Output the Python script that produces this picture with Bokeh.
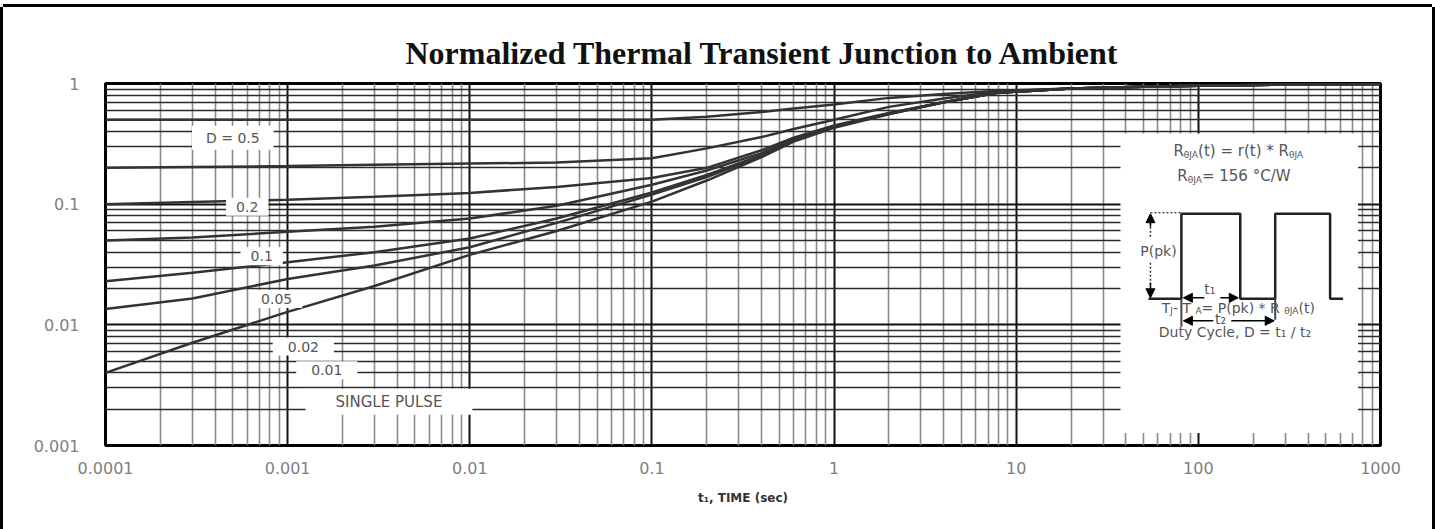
import numpy as np
from bokeh.plotting import figure
from bokeh.models import (FixedTicker, CustomJSTickFormatter, Label, Arrow,
                          NormalHead, Range1d)
from bokeh.embed import file_html
from bokeh.resources import INLINE

# ---------------- data ----------------
time_s = [1e-4, 3e-4, 1e-3, 3e-3, 0.01, 0.03, 0.1, 0.2, 0.4, 0.6,
          1, 2, 4, 8, 20, 50, 100, 300, 1000]
r_d050 = [0.50, 0.50, 0.50, 0.50, 0.50, 0.50, 0.50, 0.53, 0.58, 0.62,
          0.67, 0.76, 0.82, 0.87, 0.91, 0.94, 0.96, 0.98, 0.99]
r_d020 = [0.200, 0.203, 0.207, 0.212, 0.217, 0.221, 0.24, 0.29, 0.36, 0.42,
          0.50, 0.64, 0.75, 0.86, 0.91, 0.94, 0.96, 0.98, 0.99]
r_d010 = [0.100, 0.104, 0.109, 0.115, 0.124, 0.139, 0.165, 0.20, 0.28, 0.355,
          0.45, 0.57, 0.70, 0.84, 0.91, 0.94, 0.96, 0.98, 0.99]
r_d005 = [0.050, 0.053, 0.059, 0.065, 0.076, 0.097, 0.145, 0.19, 0.265, 0.345,
          0.445, 0.565, 0.70, 0.84, 0.91, 0.94, 0.96, 0.98, 0.99]
r_d002 = [0.023, 0.027, 0.033, 0.040, 0.052, 0.076, 0.125, 0.175, 0.255, 0.34,
          0.44, 0.56, 0.70, 0.84, 0.91, 0.94, 0.96, 0.98, 0.99]
r_d001 = [0.0135, 0.0165, 0.024, 0.031, 0.044, 0.070, 0.12, 0.168, 0.25, 0.335,
          0.435, 0.56, 0.70, 0.84, 0.91, 0.94, 0.96, 0.98, 0.99]
r_single = [0.0040, 0.0071, 0.0128, 0.021, 0.038, 0.060, 0.105, 0.157, 0.245, 0.33,
            0.43, 0.555, 0.70, 0.84, 0.91, 0.94, 0.96, 0.98, 0.99]

x_ticks = [0.0001, 0.001, 0.01, 0.1, 1, 10, 100, 1000]
y_ticks = [0.001, 0.01, 0.1, 1]

curve_labels = ["D = 0.5", "0.2", "0.1", "0.05", "0.02", "0.01", "SINGLE PULSE"]
label_t = [5.0e-4, 6.0e-4, 7.2e-4, 8.7e-4, 1.22e-3, 1.64e-3, 3.6e-3]
label_r = [0.356, 0.095, 0.037, 0.0164, 0.0066, 0.0042, 0.0023]

title_text = "Normalized Thermal Transient Junction to Ambient"
x_label = "t\u2081, TIME (sec)"

# ---------------- figure ----------------
p = figure(width=1429, height=522, x_axis_type="log", y_axis_type="log",
           x_range=Range1d(1e-4, 1000), y_range=Range1d(1e-3, 1),
           output_backend="svg", toolbar_location=None,
           min_border_left=102, min_border_right=52,
           min_border_top=76, min_border_bottom=84,
           styles={"margin-left": "3px", "margin-top": "7px",
                   "box-shadow": "-3px 0 0 0 #000, 3px 0 0 0 #000, 0 -3px 0 0 #000"})

p.title.text = title_text
p.title.align = "left"
p.title.offset = 300
p.title.text_font = "Liberation Serif"
p.title.text_font_size = "32px"
p.title.text_font_style = "bold"
p.title.text_color = "#111111"
p.title.standoff = 26

minor = [m * 10.0 ** e for e in range(-4, 3) for m in range(2, 10)]
yminor = [m * 10.0 ** e for e in range(-3, 0) for m in range(2, 10)]
p.xaxis.ticker = FixedTicker(ticks=x_ticks, minor_ticks=minor)
p.yaxis.ticker = FixedTicker(ticks=y_ticks, minor_ticks=yminor)
p.xaxis.formatter = CustomJSTickFormatter(code="return tick.toString();")
p.yaxis.formatter = CustomJSTickFormatter(code="return tick.toString();")

for ax in (p.xaxis[0], p.yaxis[0]):
    ax.axis_line_color = None
    ax.major_tick_line_color = None
    ax.minor_tick_line_color = None
    ax.major_label_text_font = "DejaVu Sans"
    ax.major_label_text_font_size = "16px"
    ax.major_label_text_color = "#808080"
p.xaxis.major_label_standoff = 10
p.yaxis.major_label_standoff = 20
p.xaxis.axis_label = x_label
p.xaxis.axis_label_text_font = "DejaVu Sans"
p.xaxis.axis_label_text_font_size = "12px"
p.xaxis.axis_label_text_font_style = "bold"
p.xaxis.axis_label_text_color = "#333333"
p.xaxis.axis_label_standoff = 14

p.xgrid.grid_line_color = "#111111"
p.xgrid.grid_line_width = 2
p.xgrid.minor_grid_line_color = "#8a8a8a"
p.xgrid.minor_grid_line_width = 1.6
p.ygrid.grid_line_color = "#111111"
p.ygrid.grid_line_width = 2
p.ygrid.minor_grid_line_color = "#2a2a2a"
p.ygrid.minor_grid_line_width = 1.3

p.outline_line_color = "black"
p.outline_line_width = 3

# ---------------- curves ----------------
for r in (r_d050, r_d020, r_d010, r_d005, r_d002, r_d001, r_single):
    p.line(time_s, r, line_color="#333333", line_width=2.5)

# padding is (horizontal, vertical)
label_pad = {"D = 0.5": 14, "0.02": 15, "0.01": 15, "SINGLE PULSE": 30}
for txt, t, r in zip(curve_labels, label_t, label_r):
    p.add_layout(Label(x=t, y=r, text=txt, text_align="center",
                       text_baseline="middle", text_font="DejaVu Sans",
                       text_font_size="15px" if txt == "SINGLE PULSE" else "14px",
                       text_color="#555555",
                       background_fill_color="white",
                       padding=(label_pad.get(txt, 10), 4)))

# ---------------- inset (positions taken from reference layout) ----------------
def tx(px):
    return 10 ** (-4 + (px - 105) / 182.5)

def ry(py):
    return 10 ** (-(py - 83) / 120.5)

p.quad(left=tx(1122), right=tx(1360), bottom=ry(432), top=ry(133),
       fill_color="white", line_color=None)

wave_x = [1150, 1183, 1183, 1242, 1242, 1277, 1277, 1332, 1332, 1345]
wave_y = [298, 298, 213, 213, 298, 298, 213, 213, 298, 298]
p.line([tx(v) for v in wave_x], [ry(v) for v in wave_y],
       line_color="#222222", line_width=2.5)
p.multi_line([[tx(1183), tx(1183)], [tx(1277), tx(1277)]],
             [[ry(298), ry(326)], [ry(298), ry(319)]],
             line_color="#444444", line_width=2)
p.line([tx(1152), tx(1183)], [ry(212), ry(212)], line_color="#333333",
       line_width=1.3, line_dash="2 2")
p.line([tx(1152), tx(1152)], [ry(222), ry(238)], line_color="#333333",
       line_width=1.5, line_dash="2 2")
p.line([tx(1152), tx(1152)], [ry(262), ry(284)], line_color="#333333",
       line_width=1.5, line_dash="2 2")

def arrow(x0, y0, x1, y1):
    p.add_layout(Arrow(end=NormalHead(size=9, fill_color="black", line_color="black"),
                       x_start=tx(x0), y_start=ry(y0), x_end=tx(x1), y_end=ry(y1),
                       line_color="black", line_width=1.5))

arrow(1152, 226, 1152, 213)
arrow(1152, 282, 1152, 297)
arrow(1206, 297, 1185, 297)
arrow(1222, 297, 1240, 297)
arrow(1215, 320, 1185, 320)
arrow(1233, 320, 1276, 320)

W = {" ": .318, "(": .39, ")": .39, "*": .5, ",": .318, "-": .361, ".": .318,
     "/": .337, "=": .838, "A": .684, "C": .698, "D": .77, "J": .295, "P": .603,
     "R": .695, "T": .611, "W": .989, "c": .55, "e": .615, "k": .579, "l": .278,
     "p": .635, "r": .411, "t": .392, "u": .634, "y": .592, "\u03b8": .602,
     "\u00b0": .5}

def width(s, size):
    return sum(W.get(ch, .636) for ch in s) * size

def rich(cx, cy, pieces):
    total = sum(width(s, sz) for s, sz, _ in pieces)
    off = -total / 2
    for s, sz, dy in pieces:
        p.add_layout(Label(x=tx(cx), y=ry(cy), x_offset=off, y_offset=dy, text=s,
                           text_align="left", text_baseline="middle",
                           text_font="DejaVu Sans", text_font_size=f"{sz}px",
                           text_color="#555555"))
        off += width(s, sz)

rich(1240, 150, [("R", 15, 0), ("\u03b8JA", 9, -4), ("(t) = r(t) * R", 15, 0),
                 ("\u03b8JA", 9, -4)])
rich(1238, 175, [("R", 15, 0), ("\u03b8JA", 9, -4), (" = 156 \u00b0C/W", 15, 0)])
rich(1160, 250, [("P(pk)", 14, 0)])
rich(1213, 288, [("t\u2081", 14, 0)])
rich(1224, 318, [("t\u2082", 14, 0)])
rich(1240, 307, [("T", 14, 0), ("J", 9, -3), (" - T", 14, 0), ("A", 9, -3),
                 (" = P(pk) * R", 14, 0), ("\u03b8JA", 9, -3), ("(t)", 14, 0)])
rich(1240, 331, [("Duty Cycle, D = t\u2081 / t\u2082", 14, 0)])

open("out.html", "w").write(file_html(p, INLINE))
